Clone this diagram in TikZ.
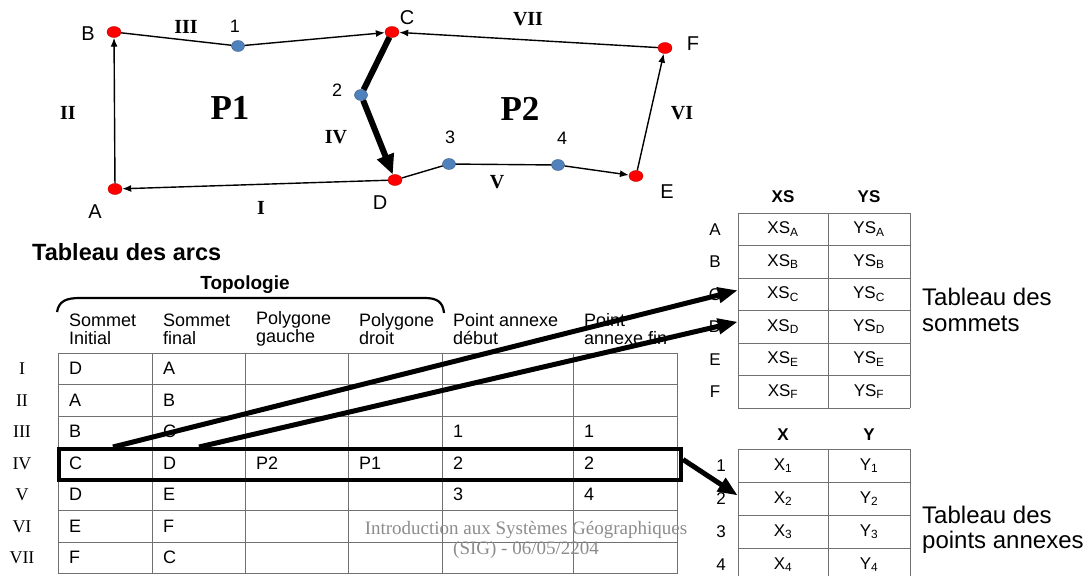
\documentclass[tikz,border=0pt]{standalone}
\usepackage{fontspec}
\setmainfont{Liberation Sans}
\newfontfamily\tnrfont{Liberation Serif}
\usetikzlibrary{arrows.meta,shapes.geometric}
\definecolor{ptred}{HTML}{FF0000}
\definecolor{ptblue}{HTML}{4F81BD}
\definecolor{gridgray}{HTML}{707070}
\definecolor{footgray}{HTML}{8C8C8C}
\newcommand\fsz[2]{\fontsize{#1}{#2}\selectfont}

\begin{document}
\begin{tikzpicture}[x=1pt,y=-1pt,
  every node/.style={font=\fsz{18}{18},inner sep=0pt},
  sv/.style={ellipse,draw=ptred!75!black,fill=ptred,
             minimum width=14pt,minimum height=11pt},
  pa/.style={ellipse,draw=ptblue!70!black,fill=ptblue,
             minimum width=13pt,minimum height=11pt},
  lbl/.style={font=\fsz{20}{20}},
  rn/.style={font=\tnrfont\bfseries\fsz{20}{20}},
  poly/.style={font=\tnrfont\bfseries\fsz{35}{35}},
  ar/.style={-{Latex[length=9pt,width=7pt]},line width=1.4pt},
  arb/.style={-{Triangle[length=20pt,width=17pt]},line width=6pt},
  lk/.style={-{Triangle[length=20pt,width=15pt]},line width=5pt},
  tline/.style={draw=gridgray,line width=0.9pt},
  hd/.style={anchor=west,align=left,font=\fsz{18}{18}},
  cell/.style={anchor=west,font=\fsz{18}{18}},
  rl/.style={font=\tnrfont\fsz{18}{18}},
  xc/.style={minimum height=32.5pt,font=\fsz{17}{17}},
  side/.style={anchor=west,align=left,font=\fsz{24}{26}}
]
\useasboundingbox (0,0) rectangle (1091,576);

% vertices and annex points
\foreach \n/\x/\y/\lx/\ly in {A/115/189/95/212, B/114/32/88/34,
    C/392/32/407/18, D/395/180/380/203, E/636/176/667/192,
    F/665/48/693/44}{
  \node[sv] (\n) at (\x,\y) {};
  \node[lbl] (l\n) at (\lx,\ly) {\n};
}
\foreach \n/\x/\y/\lx/\ly in {1/238/46/235/26, 2/361/95/337/90,
    3/449/164/450/137, 4/558/165/562/138}{
  \node[pa] (p\n) at (\x,\y) {};
  \node[lbl,font=\fsz{18}{18}] (lp\n) at (\lx,\ly) {\n};
}

% arcs
\draw[ar] (D) -- (A);
\draw[ar] (A) -- (B);
\draw[ar] (B) -- (p1) -- (C);
\draw[arb] (C) -- (p2) -- (D);
\draw[ar] (D) -- (p3) -- (p4) -- (E);
\draw[ar] (E) -- (F);
\draw[ar] (F) -- (C);

\foreach \t/\x/\y in {I/261/208, II/68/113, III/186/27, IV/336/137,
    V/497/182, VI/682/113, VII/528/19}
  \node[rn] (r\t) at (\x,\y) {\t};
\node[poly] (P1) at (230,108) {P1};
\node[poly] (P2) at (520,109) {P2};

% tableau des arcs
\node[anchor=west,font=\bfseries\fsz{23.5}{24}] (tarcs) at (32,252) {Tableau des arcs};
\node[font=\bfseries\fsz{19}{19}] (topo) at (245,285) {Topologie};
\draw[line width=2.2pt] (57,312) .. controls (59,301) and (66,298) .. (80,298)
  -- (425,298) .. controls (437,298) and (443,302) .. (444,313);

\foreach \x/\t in {58/{Sommet\\Initial}, 152/{Sommet\\final},
    245/{Polygone\\gauche}, 348/{Polygone\\droit},
    442/{Point annexe\\début}, 573/{Point\\annexe fin}}
  \node[hd] (h\x) at (\x+11,329) {\t};

\foreach \k in {0,...,7}
  \draw[tline] (58,{353+31.5*\k}) -- (677,{353+31.5*\k});
\foreach \x in {58,152,245,348,442,573,677}
  \draw[tline] (\x,353) -- (\x,573.5);

\foreach \r/\t in {1/I,2/II,3/III,4/IV,5/V,6/VI,7/VII}
  \node[rl] (row\r) at (22,{353+31.5*\r-15.75}) {\t};

\foreach \r/\c/\t in {1/1/D,1/2/A,2/1/A,2/2/B,3/1/B,3/2/C,3/5/1,3/6/1,
    4/1/C,4/2/D,4/3/P2,4/4/P1,4/5/2,4/6/2,5/1/D,5/2/E,5/5/3,5/6/4,
    6/1/E,6/2/F,7/1/F,7/2/C}{
  \pgfmathsetmacro\cx{{58,152,245,348,442,573}[\c-1]}
  \node[cell] (a-\r-\c) at (\cx+11,{353+31.5*\r-15.75}) {\t};
}

\node[draw,line width=4pt,minimum width=622pt,minimum height=31pt,
      anchor=north west] (sel) at (57,447) {};

\node[align=center,text=footgray,font=\tnrfont\fsz{19}{20}] (foot)
  at (526,540) {Introduction aux Systèmes Géographiques\\(SIG) - 06/05/2204};

% tableau des sommets
\node[font=\bfseries\fsz{17}{17}] (hxs) at (783,197) {XS};
\node[font=\bfseries\fsz{17}{17}] (hys) at (869,197) {YS};
\foreach \k in {0,...,6}
  \draw[tline] (738,{213+32.5*\k}) -- (910,{213+32.5*\k});
\foreach \x in {738,828,910}
  \draw[tline] (\x,213) -- (\x,408);
\foreach \n [count=\k] in {A,B,C,D,E,F}{
  \node[font=\fsz{17}{17}] (ls\n) at (715,{213+32.5*\k-16.25}) {\n};
  \node[xc,minimum width=90pt] (s-\k-1) at (783,{213+32.5*\k-16.25})
    {XS\textsubscript{\n}};
  \node[xc,minimum width=82pt] (s-\k-2) at (869,{213+32.5*\k-16.25})
    {YS\textsubscript{\n}};
}
\node[side] (tsom) at (922,310) {Tableau des\\sommets};

% tableau des points annexes
\node[font=\bfseries\fsz{17}{17}] (hx) at (783,435) {X};
\node[font=\bfseries\fsz{17}{17}] (hy) at (869,435) {Y};
\foreach \k in {0,...,4}
  \draw[tline] (738,{449+33*\k}) -- (910,{449+33*\k});
\foreach \x in {738,828,910}
  \draw[tline] (\x,449) -- (\x,576);
\foreach \k in {1,...,4}{
  \node[font=\fsz{17}{17}] (lx\k) at (721,{449+33*\k-16.5}) {\k};
  \node[xc,minimum width=90pt,minimum height=33pt] (x-\k-1)
    at (783,{449+33*\k-16.5}) {X\textsubscript{\k}};
  \node[xc,minimum width=82pt,minimum height=33pt] (x-\k-2)
    at (869,{449+33*\k-16.5}) {Y\textsubscript{\k}};
}
\node[side,font=\fsz{24}{25}] (tpa) at (922,529.5) {Tableau des\\points annexes};

% liens
\coordinate (u1) at (113,447);
\coordinate (u2) at (199,447);
\draw[lk] (u1) -- ([yshift=4pt]s-3-1.west);
\draw[lk] (u2) -- ([yshift=5pt]s-4-1.west);
\draw[lk] ([yshift=5pt]sel.east) -- ([yshift=3pt]x-2-1.west);
\end{tikzpicture}
\end{document}
